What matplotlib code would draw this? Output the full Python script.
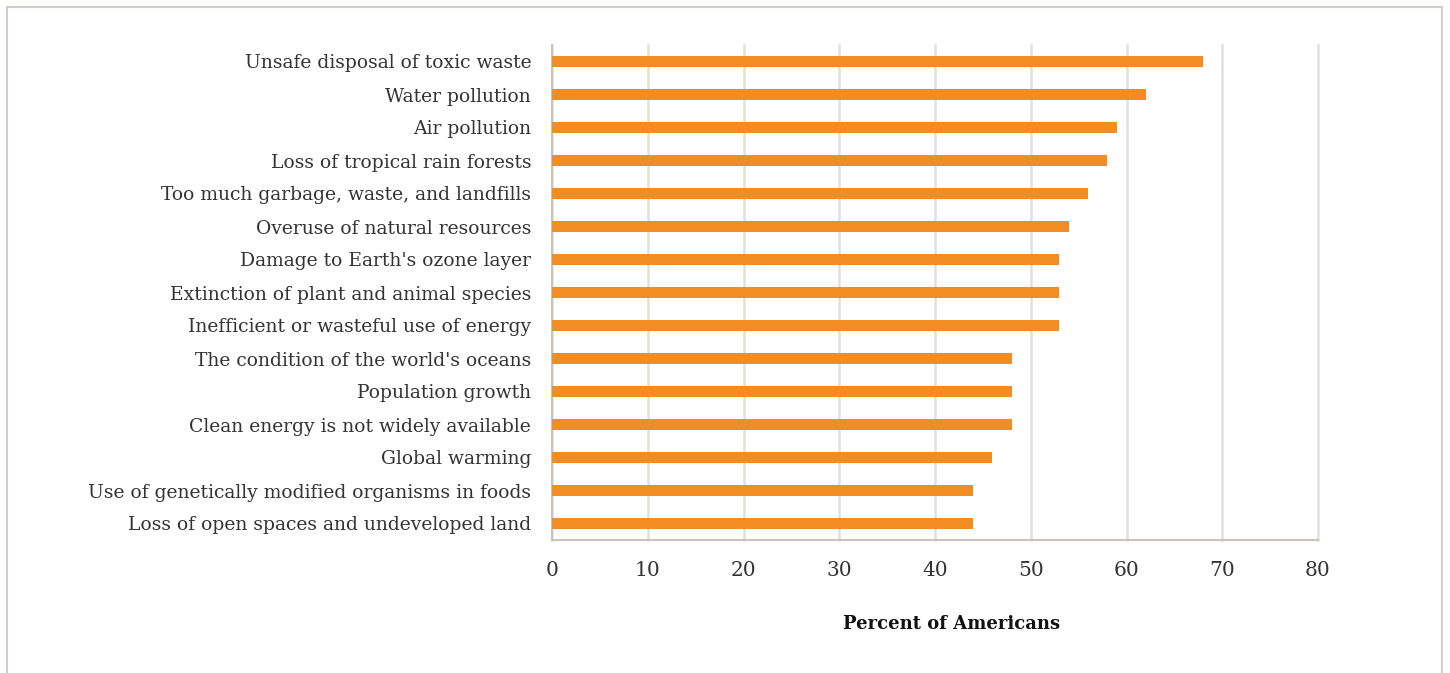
import matplotlib
matplotlib.use("Agg")
import matplotlib.pyplot as plt
from matplotlib.patches import Rectangle

issues = [
    "Unsafe disposal of toxic waste",
    "Water pollution",
    "Air pollution",
    "Loss of tropical rain forests",
    "Too much garbage, waste, and landfills",
    "Overuse of natural resources",
    "Damage to Earth's ozone layer",
    "Extinction of plant and animal species",
    "Inefficient or wasteful use of energy",
    "The condition of the world's oceans",
    "Population growth",
    "Clean energy is not widely available",
    "Global warming",
    "Use of genetically modified organisms in foods",
    "Loss of open spaces and undeveloped land",
]
percent = [68, 62, 59, 58, 56, 54, 53, 53, 53, 48, 48, 48, 46, 44, 44]
xticks = [0, 10, 20, 30, 40, 50, 60, 70, 80]

bar_color = "#F18D23"
text_color = "#333333"
grid_color = "#E3E0DC"
spine_color = "#C9C4BE"

plt.rcParams["font.family"] = ["DejaVu Serif"]

fig = plt.figure(figsize=(14.5, 6.73), dpi=100)
ax = fig.add_axes([552 / 1450, 1 - 540 / 673, 766 / 1450, 495 / 673])

y = list(range(len(issues)))
ax.barh(y, percent, height=0.36, color=bar_color, zorder=3)

ax.set_ylim(len(issues) - 0.5, -0.5)
ax.set_xlim(0, 80)
ax.set_xticks(xticks)
ax.set_xticklabels([str(t) for t in xticks])
ax.set_yticks(y)
ax.set_yticklabels(issues)

ax.tick_params(axis="both", length=0, colors=text_color)
ax.tick_params(axis="y", labelsize=13.5, pad=15)
ax.tick_params(axis="x", labelsize=14.5, pad=15)

ax.grid(axis="x", color=grid_color, linewidth=1.8, zorder=0)
for gl in ax.get_xgridlines():
    gl.set_clip_on(False)
for side in ["top", "right"]:
    ax.spines[side].set_visible(False)
for side in ["left", "bottom"]:
    ax.spines[side].set_color(spine_color)
    ax.spines[side].set_linewidth(1.5)

ax.set_xlabel("Percent of Americans", fontsize=13, fontweight="bold", color="#111111")
ax.xaxis.set_label_coords(0.521, -0.152)

# light frame around the whole figure, open at the bottom
fig.patches.append(Rectangle((7 / 1450, -0.05), 1435 / 1450, 1 - 7 / 673 + 0.05,
                             transform=fig.transFigure, fill=False,
                             edgecolor="#D2CDC8", linewidth=1.5))

fig.savefig("out.png", dpi=100)
